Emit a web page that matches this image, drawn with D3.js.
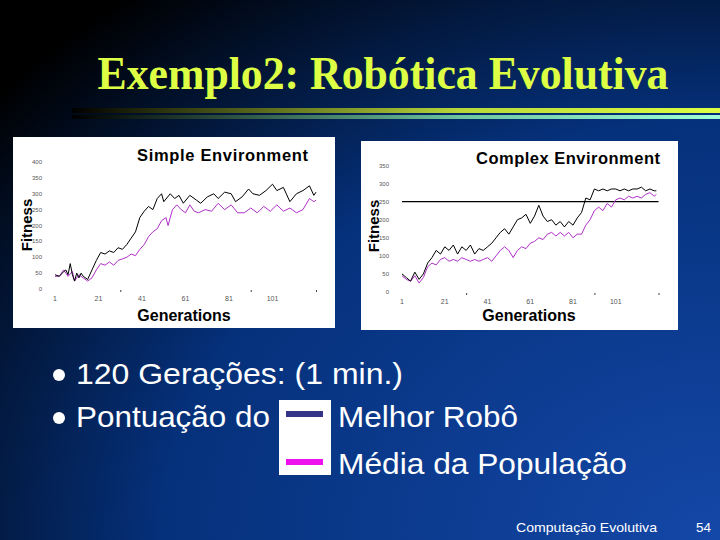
<!DOCTYPE html><html><head><meta charset="utf-8">
<script src="https://cdn.jsdelivr.net/npm/d3@7"></script>
<style>body{margin:0}svg{display:block}</style></head><body>
<script>
const simpleGen=[1,3,5,6,7,8,9,10,11,12,13,14,16,18,20,22,24,26,28,30,32,34,36,38,40,42,44,46,48,50,51,54,56,58,60,63,66,68,71,74,76,79,82,84,87,90,92,95,98,101,103,106,109,112,115,118,120,121];
const simpleBest=[45,40,55,60,45,80,45,25,50,35,50,40,30,60,90,115,110,120,115,130,125,140,160,180,225,245,260,250,285,300,275,300,285,295,270,295,280,270,290,300,285,305,300,275,290,315,300,295,310,330,310,320,275,300,310,325,295,305];
const simpleAvgGen=[1,3,5,7,9,10,12,14,16,18,20,22,24,26,28,30,32,34,36,38,40,42,44,46,48,50,52,53,55,57,59,61,63,65,67,70,73,76,79,82,85,88,91,94,97,100,103,106,109,112,115,118,120,121];
const simpleAvg=[40,40,60,40,55,25,45,35,25,35,60,80,75,85,75,90,95,100,110,105,125,140,165,180,190,215,225,200,250,265,250,240,265,245,240,250,245,270,250,265,240,240,255,240,260,245,265,245,255,240,250,285,275,280];
const complexGen=[1,3,5,7,9,11,13,15,17,19,21,23,25,27,29,31,33,35,37,39,41,43,45,47,49,51,53,55,57,59,61,63,65,67,69,71,73,75,77,79,81,83,85,87,89,91,93,95,97,99,101,103,105,107,109,111,113,115,117,119,120];
const complexBest=[50,40,30,55,35,50,80,95,115,105,125,115,130,105,125,115,130,105,120,115,125,135,150,165,175,160,180,200,205,215,190,210,240,210,195,200,185,195,180,195,185,205,220,260,255,285,280,285,280,285,285,280,285,280,285,285,290,280,285,280,280];
const complexAvg=[45,35,30,45,25,40,70,80,75,90,95,85,90,85,95,90,85,90,85,90,95,85,100,115,125,115,95,115,125,120,135,140,150,145,160,165,155,165,155,165,150,160,160,185,200,225,235,225,245,235,255,260,255,265,260,265,260,270,275,265,270];
const simpleYTicks=[0,50,100,150,200,250,300,350,400];
const complexYTicks=[0,50,100,150,200,250,300,350];
const xTicks=[1,21,41,61,81,101];
const threshold=250;

const svg=d3.select("body").append("svg").attr("width",720).attr("height",540);
const defs=svg.append("defs");
const bg=defs.append("radialGradient").attr("id","bg").attr("cx","100%").attr("cy","100%").attr("r","130%");
bg.append("stop").attr("offset","0").attr("stop-color","#1448a8");
bg.append("stop").attr("offset","0.6").attr("stop-color","#05307a");
bg.append("stop").attr("offset","1").attr("stop-color","#000000");
svg.append("rect").attr("width",720).attr("height",540).attr("fill","url(#bg)");
const g1=defs.append("linearGradient").attr("id","b1");
g1.append("stop").attr("offset","0").attr("stop-color","#000");
g1.append("stop").attr("offset","0.6").attr("stop-color","#b8d83a");
g1.append("stop").attr("offset","1").attr("stop-color","#ddff44");
const g2=defs.append("linearGradient").attr("id","b2");
g2.append("stop").attr("offset","0").attr("stop-color","#000");
g2.append("stop").attr("offset","0.6").attr("stop-color","#6cc6a0");
g2.append("stop").attr("offset","1").attr("stop-color","#a0ffd8");
svg.append("rect").attr("x",72).attr("y",108).attr("width",648).attr("height",5).attr("fill","url(#b1)");
svg.append("rect").attr("x",72).attr("y",115).attr("width",648).attr("height",4).attr("fill","url(#b2)");

svg.append("text").attr("x",383).attr("y",89).attr("text-anchor","middle")
 .attr("font-family","Liberation Serif").attr("font-weight","bold").attr("font-size",47)
 .attr("fill","#ddff44").attr("textLength",571).attr("lengthAdjust","spacingAndGlyphs")
 .text("Exemplo2: Robótica Evolutiva");

function panel(o){
  svg.append("rect").attr("x",o.bx).attr("y",o.by).attr("width",o.bw).attr("height",o.bh).attr("fill","#fff");
  const x=d3.scaleLinear().domain([1,121]).range(o.xr);
  const y=d3.scaleLinear().domain([0,o.ymax]).range(o.yr);
  const g=svg.append("g");
  g.selectAll(".yt").data(o.yt).join("text").attr("x",o.xr[0]-13).attr("y",d=>y(d)+2)
   .attr("text-anchor","end").attr("font-family","Liberation Sans").attr("font-size",6).attr("fill","#555").text(d=>d);
  g.selectAll(".xt").data(xTicks).join("text").attr("x",d=>x(d)).attr("y",o.yr[0]+12)
   .attr("text-anchor","middle").attr("font-family","Liberation Sans").attr("font-size",7).attr("fill","#555").text(d=>d);
  g.selectAll(".xm").data([31,91,121]).join("rect").attr("x",d=>x(d)).attr("y",o.yr[0]+1).attr("width",1).attr("height",2).attr("fill","#444");
  if(o.thr!=null) g.append("line").attr("x1",x(1)).attr("x2",x(121)).attr("y1",y(o.thr)).attr("y2",y(o.thr)).attr("stroke","#000").attr("stroke-width",1.2);
  const line=d3.line().x(d=>x(d[0])).y(d=>y(d[1]));
  g.append("path").attr("d",line(d3.zip(o.ag,o.av))).attr("fill","none").attr("stroke","#b030c8").attr("stroke-width",1);
  g.append("path").attr("d",line(d3.zip(o.bg,o.bv))).attr("fill","none").attr("stroke","#000").attr("stroke-width",1);
  g.append("text").attr("x",o.tx).attr("y",o.ty).attr("text-anchor","end").attr("font-family","Liberation Sans").attr("font-weight","bold").attr("font-size",16.5).attr("textLength",o.tl).text(o.title);
  g.append("text").attr("x",o.gx).attr("y",o.gy).attr("text-anchor","middle").attr("font-family","Liberation Sans").attr("font-weight","bold").attr("font-size",16).text("Generations");
  g.append("text").attr("transform",`translate(${o.fx},${o.fy}) rotate(-90)`).attr("text-anchor","middle").attr("font-family","Liberation Sans").attr("font-weight","bold").attr("font-size",15).text("Fitness");
}
panel({bx:13,by:137,bw:322,bh:191,xr:[55,316],yr:[289,162],ymax:400,yt:simpleYTicks,
 bg:simpleGen,bv:simpleBest,ag:simpleAvgGen,av:simpleAvg,title:"Simple Environment",tl:171,tx:308,ty:161,gx:184,gy:321,fx:32,fy:225});
panel({bx:361,by:141,bw:317,bh:189,xr:[402,658.5],yr:[292,165.5],ymax:350,yt:complexYTicks,
 bg:complexGen,bv:complexBest,ag:complexGen,av:complexAvg,thr:threshold,title:"Complex Environment",tl:184,tx:660,ty:164,gx:529,gy:321,fx:379,fy:226});

const T=(x,y,t,w,sz)=>svg.append("text").attr("x",x).attr("y",y).attr("font-family","Liberation Sans").attr("font-size",sz||29).attr("fill","#fff").attr("textLength",w).attr("lengthAdjust","spacingAndGlyphs").text(t);
svg.append("circle").attr("cx",59).attr("cy",375).attr("r",6).attr("fill","#fff");
svg.append("circle").attr("cx",59).attr("cy",418).attr("r",6).attr("fill","#fff");
T(76,384,"120 Gerações: (1 min.)",327);
T(76,427,"Pontuação do",194);
svg.append("rect").attr("x",279).attr("y",400).attr("width",52).attr("height",75).attr("fill","#fff");
svg.append("rect").attr("x",286).attr("y",411).attr("width",37).attr("height",6).attr("fill","#333388");
svg.append("rect").attr("x",286).attr("y",459).attr("width",37).attr("height",6).attr("fill","#ee11ee");
T(338,427,"Melhor Robô",180);
T(338,474,"Média da População",289);
T(516,532,"Computação Evolutiva",141,13);
T(696,532,"54",15,13);
</script></body></html>
